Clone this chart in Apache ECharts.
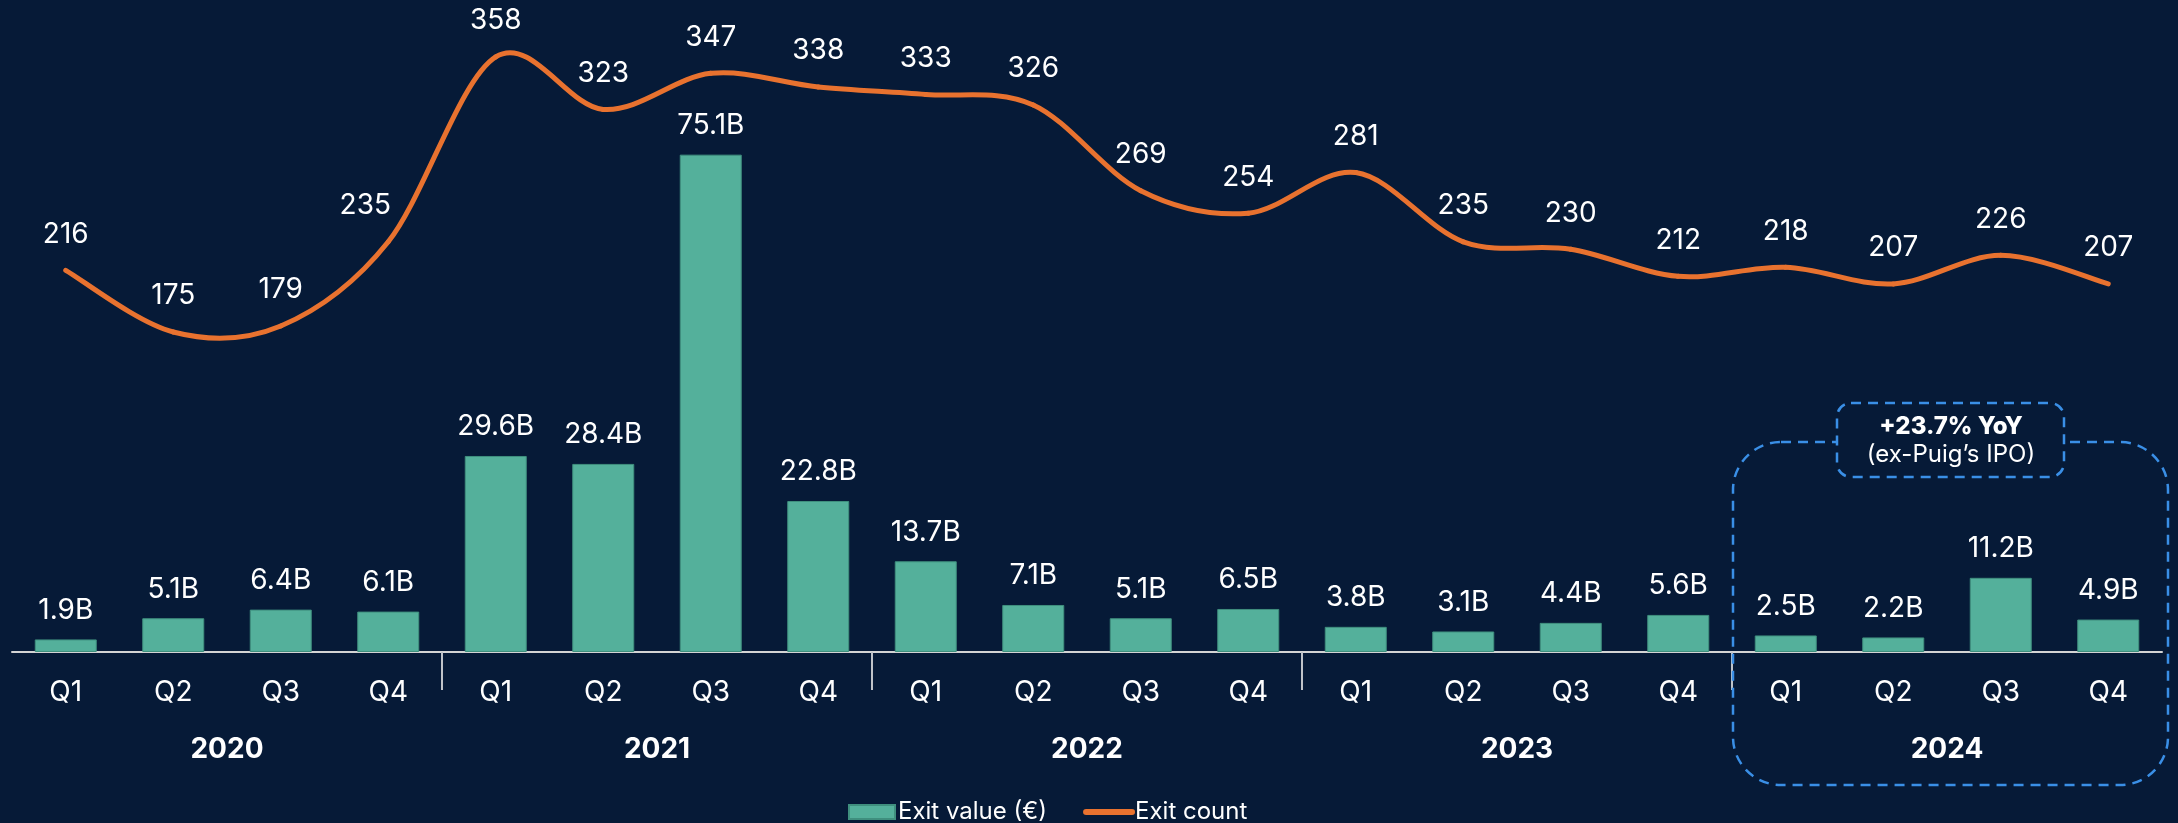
<!DOCTYPE html>
<html>
<head>
<meta charset="utf-8">
<script src="https://cdn.jsdelivr.net/npm/echarts@6/dist/echarts.min.js"></script>
<style>
  html, body { margin: 0; padding: 0; background: #061a37; }
  #main { width: 2178px; height: 823px; }
</style>
</head>
<body>
<div id="main"></div>
<script>
// quarters on the axis, years below them
var quarters = ['Q1', 'Q2', 'Q3', 'Q4', 'Q1', 'Q2', 'Q3', 'Q4', 'Q1', 'Q2', 'Q3', 'Q4',
                'Q1', 'Q2', 'Q3', 'Q4', 'Q1', 'Q2', 'Q3', 'Q4'];
var years = ['2020', '2021', '2022', '2023', '2024'];

// exit value in billions of euros
var exitValue = [1.9, 5.1, 6.4, 6.1, 29.6, 28.4, 75.1, 22.8, 13.7, 7.1, 5.1, 6.5,
                 3.8, 3.1, 4.4, 5.6, 2.5, 2.2, 11.2, 4.9];
// number of exits
var exitCount = [216, 175, 179, 235, 358, 323, 347, 338, 333, 326, 269, 254,
                 281, 235, 230, 212, 218, 207, 226, 207];

var bg = '#061a37';
var font = 'Inter';
var orange = '#e8722f';

// separators between years, in quarter units
var yearBreaks = years.slice(1).map(function (y, i) { return (i + 1) * 4; });

var myChart = echarts.init(document.getElementById('main'));

// catmull-rom style curve through the exit counts (excel-like smoothing)
function renderCurve(params, api) {
  var i = params.dataIndex;
  var n = exitCount.length;
  if (i >= n - 1) return null;
  var pt = function (j) {
    j = Math.max(0, Math.min(n - 1, j));
    return api.coord([j, exitCount[j]]);
  };
  var p0 = pt(i - 1), p1 = pt(i), p2 = pt(i + 1), p3 = pt(i + 2);
  var k = 1 / 6;
  return {
    type: 'bezierCurve',
    shape: {
      x1: p1[0], y1: p1[1], x2: p2[0], y2: p2[1],
      cpx1: p1[0] + (p2[0] - p0[0]) * k, cpy1: p1[1] + (p2[1] - p0[1]) * k,
      cpx2: p2[0] - (p3[0] - p1[0]) * k, cpy2: p2[1] - (p3[1] - p1[1]) * k
    },
    style: { stroke: orange, lineWidth: 5, fill: null, lineCap: 'round' }
  };
}

var option = {
  backgroundColor: bg,
  textStyle: { fontFamily: font, color: '#fff' },
  grid: { left: 12, right: 16, top: 52, bottom: 171, containLabel: false },
  legend: {
    left: 843,
    top: 795,
    itemWidth: 46,
    itemHeight: 14,
    itemGap: 36,
    textStyle: { color: '#fff', fontSize: 24, fontFamily: font, padding: [0, 0, 0, -2] },
    data: [
      { name: 'Exit value (€)', icon: 'rect' },
      { name: 'Exit count', lineStyle: { width: 6, cap: 'round', color: orange, opacity: 1 }, itemStyle: { opacity: 0 } }
    ]
  },
  xAxis: [
    {
      type: 'category',
      data: quarters,
      position: 'bottom',
      axisLine: { lineStyle: { color: '#d4d4d4', width: 2 } },
      axisTick: { show: false },
      axisLabel: { interval: 0, margin: 27, color: '#fff', fontSize: 28, fontFamily: font }
    },
    {
      type: 'category',
      data: years,
      position: 'bottom',
      axisLine: { show: false },
      axisTick: { show: false },
      axisLabel: { margin: 84, color: '#fff', fontSize: 28, fontWeight: 'bold', fontFamily: font }
    },
    {
      type: 'value',
      min: 0,
      max: quarters.length,
      position: 'bottom',
      axisLine: { show: false },
      axisLabel: { show: false },
      splitLine: { show: false },
      axisTick: {
        show: true,
        length: 38,
        customValues: yearBreaks,
        lineStyle: { color: '#bfc3c9', width: 2 }
      }
    }
  ],
  yAxis: [
    { type: 'value', min: 0, max: 90.6, show: false, splitLine: { show: false } },
    { type: 'value', min: -37.8, max: 361.2, show: false, splitLine: { show: false } }
  ],
  series: [
    {
      name: 'Exit value (€)',
      type: 'bar',
      xAxisIndex: 0,
      yAxisIndex: 0,
      data: exitValue,
      barWidth: 62,
      itemStyle: { color: '#54b09b', borderColor: '#3f8f7e', borderWidth: 1 },
      label: {
        show: true,
        position: 'top',
        distance: 15,
        color: '#fff',
        fontSize: 28,
        fontFamily: font,
        formatter: function (p) { return p.value + 'B'; }
      },
      z: 2
    },
    {
      // carries the legend entry and the value labels
      name: 'Exit count',
      type: 'line',
      xAxisIndex: 0,
      yAxisIndex: 1,
      data: exitCount,
      symbol: 'circle',
      symbolSize: 2,
      itemStyle: { color: 'rgba(0,0,0,0)' },
      lineStyle: { color: orange, width: 5, opacity: 0 },
      label: {
        show: true,
        position: 'top',
        distance: 21,
        color: '#fff',
        fontSize: 28,
        fontFamily: font
      },
      // the steep 2020 Q4 label sits a bit left of its point
      labelLayout: function (p) {
        if (p.dataIndex === 3) return { dx: -23 };
        return {};
      },
      z: 4
    },
    {
      name: 'Exit count',
      type: 'custom',
      xAxisIndex: 0,
      yAxisIndex: 1,
      data: exitCount.map(function (v, i) { return [i, v]; }),
      encode: { x: 0, y: 1 },
      renderItem: renderCurve,
      z: 3
    }
  ],
  graphic: [
    {
      type: 'rect',
      shape: { x: 1733, y: 442, width: 435, height: 343, r: 48 },
      style: { fill: 'none', stroke: '#3a8fe6', lineWidth: 2.5, lineDash: [10, 7] },
      z: 10
    },
    {
      type: 'rect',
      shape: { x: 1837, y: 403, width: 227, height: 74, r: 14 },
      style: { fill: bg, stroke: '#3a8fe6', lineWidth: 2.5, lineDash: [10, 7] },
      z: 11
    },
    {
      type: 'text',
      x: 1951,
      y: 427,
      style: { text: '+23.7% YoY', fill: '#fff', fontSize: 24, fontWeight: 800, fontFamily: font, align: 'center', verticalAlign: 'middle' },
      z: 12
    },
    {
      type: 'text',
      x: 1951,
      y: 455,
      style: { text: '(ex-Puig’s IPO)', fill: '#fff', fontSize: 24, fontFamily: font, align: 'center', verticalAlign: 'middle' },
      z: 12
    }
  ]
};

myChart.setOption(option);
</script>
</body>
</html>
